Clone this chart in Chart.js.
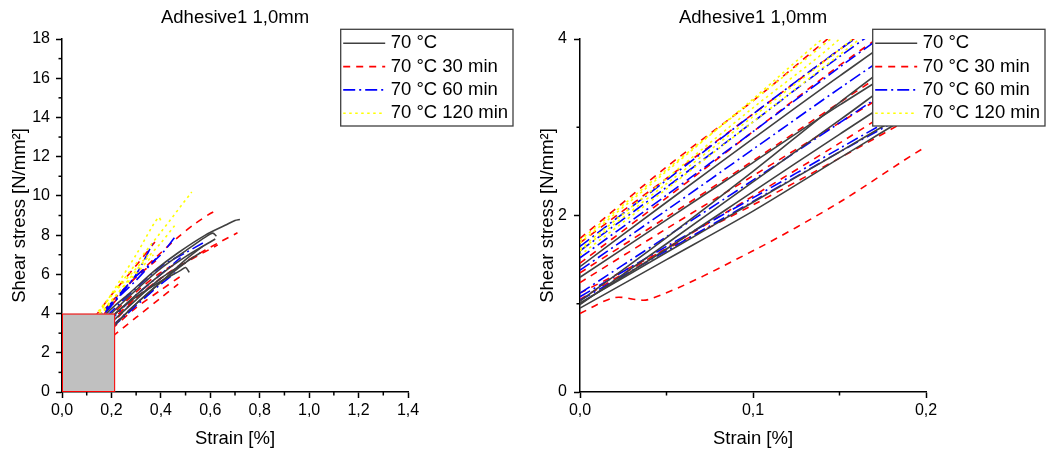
<!DOCTYPE html>
<html>
<head>
<meta charset="utf-8">
<script src="https://cdn.jsdelivr.net/npm/chart.js@4.4.1/dist/chart.umd.min.js"></script>
<style>
    html, body { margin: 0; padding: 0; background: #fff; }
    #wrap { position: relative; width: 1046px; height: 450px; overflow: hidden; }
    canvas { position: absolute; top: 0; }
    #leftChart { left: 0; }
    #rightChart { left: 520px; }
</style>
</head>
<body>
<div id="wrap">
    <canvas id="leftChart" width="520" height="450"></canvas>
    <canvas id="rightChart" width="526" height="450"></canvas>
</div>
<script>
// Series names (legend)
const seriesNames = ['70 °C', '70 °C 30 min', '70 °C 60 min', '70 °C 120 min'];

// Each curve: [strain %, shear stress N/mm²]
const curves70 = [
    [[0,1.42],[0.05,2.15],[0.1,2.87],[0.15,3.58],[0.2,4.25],[0.27,5.0],[0.376,6.2],[0.47,7.1],[0.58,8.0],[0.66,8.5],[0.7,8.75],[0.72,8.8]],
    [[0,1.03],[0.05,1.75],[0.1,2.5],[0.15,3.28],[0.2,4.0],[0.3,5.2],[0.4,6.3],[0.5,7.2],[0.58,7.9],[0.61,8.1],[0.625,7.95]],
    [[0,0.99],[0.05,1.68],[0.1,2.38],[0.15,3.08],[0.2,3.78],[0.3,4.95],[0.4,6.0],[0.5,6.9],[0.6,7.65],[0.62,7.8]],
    [[0,0.95],[0.05,1.5],[0.1,2.05],[0.15,2.65],[0.2,3.25],[0.3,4.5],[0.4,5.6],[0.5,6.75],[0.57,7.44]],
    [[0,1.01],[0.05,1.58],[0.1,2.15],[0.15,2.72],[0.2,3.3],[0.3,4.5],[0.4,5.6],[0.5,6.6],[0.56,7.1]],
    [[0,1.3],[0.05,1.95],[0.1,2.6],[0.15,3.25],[0.2,3.85],[0.3,4.85],[0.4,5.65],[0.48,6.2],[0.5,6.35],[0.515,6.1]],
    [[0,1.0],[0.05,1.62],[0.1,2.27],[0.15,2.92],[0.2,3.55],[0.3,4.7],[0.4,5.8],[0.5,6.6]]
];
const curves30 = [
    [[0,0.89],[0.02,1.07],[0.04,1.05],[0.1,1.6],[0.15,2.15],[0.2,2.78],[0.25,3.3],[0.3,3.8],[0.4,4.8],[0.47,5.5]],
    [[0,1.05],[0.05,1.63],[0.1,2.22],[0.15,2.82],[0.2,3.45],[0.31,4.9],[0.445,6.2],[0.58,7.24],[0.71,8.12]],
    [[0,1.46],[0.05,2.2],[0.1,2.95],[0.15,3.7],[0.2,4.4],[0.3,5.9],[0.4,7.1],[0.47,7.9],[0.54,8.6],[0.6,9.1],[0.615,9.2]],
    [[0,1.24],[0.05,1.85],[0.1,2.45],[0.15,3.05],[0.2,3.65],[0.3,4.8],[0.4,5.8],[0.5,6.6],[0.63,7.5]],
    [[0,1.74],[0.05,2.55],[0.1,3.3],[0.14,3.95],[0.2,4.95],[0.3,6.45],[0.376,7.65]],
    [[0,1.69],[0.05,2.42],[0.1,3.15],[0.15,3.88],[0.2,4.6],[0.3,5.85],[0.38,6.7]],
    [[0,1.35],[0.05,1.98],[0.1,2.62],[0.15,3.28],[0.2,3.92],[0.3,5.1],[0.4,6.1],[0.47,6.6]],
    [[0,1.12],[0.05,1.62],[0.1,2.12],[0.15,2.65],[0.2,3.2],[0.3,4.3],[0.4,5.2],[0.48,5.9]]
];
const curves60 = [
    [[0,1.65],[0.05,2.4],[0.1,3.15],[0.15,3.88],[0.2,4.55],[0.3,5.9],[0.4,7.0],[0.457,7.9]],
    [[0,1.52],[0.05,2.23],[0.1,2.95],[0.15,3.68],[0.2,4.4],[0.3,6.0],[0.37,7.65]],
    [[0,1.38],[0.05,2.06],[0.1,2.75],[0.15,3.44],[0.2,4.1],[0.3,5.3],[0.4,6.4],[0.5,7.1],[0.57,7.6]],
    [[0,1.12],[0.05,1.76],[0.1,2.4],[0.15,3.05],[0.2,3.7],[0.3,4.95],[0.4,6.0],[0.48,6.85]],
    [[0,1.08],[0.05,1.65],[0.1,2.2],[0.15,2.76],[0.2,3.32],[0.3,4.5],[0.4,5.5],[0.46,6.1]],
    [[0,1.04],[0.05,1.6],[0.1,2.16],[0.15,2.72],[0.2,3.26],[0.3,4.4],[0.38,5.3]],
    [[0,1.6],[0.05,2.32],[0.1,3.06],[0.15,3.8],[0.2,4.48],[0.3,5.7],[0.38,6.8]]
];
const curves120 = [
    [[0,1.69],[0.05,2.5],[0.1,3.32],[0.14,4.0],[0.2,4.95],[0.3,6.55],[0.4,8.15],[0.525,10.2]],
    [[0,1.62],[0.05,2.42],[0.1,3.22],[0.15,4.0],[0.2,5.0],[0.3,7.0],[0.39,8.9],[0.405,8.6]],
    [[0,1.55],[0.05,2.3],[0.1,3.06],[0.15,3.82],[0.2,4.6],[0.3,6.2],[0.4,7.6],[0.457,8.5]],
    [[0,1.72],[0.05,2.52],[0.1,3.3],[0.15,4.08],[0.2,4.9],[0.3,6.3],[0.35,7.0]],
    [[0,1.6],[0.05,2.36],[0.1,3.12],[0.15,3.88],[0.2,4.68],[0.3,6.05],[0.37,7.0]]
];

// Zoomed region marked on the overview plot
const zoomStrain = [0, 0.215];
const zoomStress = [0, 4];

const groups = [curves70, curves30, curves60, curves120];
const lineStyles = [
    { color: '#404040', dash: [], order: 2 },
    { color: '#ff0000', dash: [7, 6], order: 4 },
    { color: '#0000ff', dash: [12, 4, 2, 4], order: 3 },
    { color: '#ffff00', dash: [2.5, 3.5], order: 1 }
];
const FONT = "'Liberation Sans', Arial, sans-serif";
const TITLE = 'Adhesive1 1,0mm';

function buildDatasets() {
    const out = [];
    groups.forEach((group, gi) => {
        group.forEach(curve => {
            out.push({
                label: seriesNames[gi],
                data: curve.map(p => ({ x: p[0], y: p[1] })),
                showLine: true,
                borderColor: lineStyles[gi].color,
                borderWidth: 1.6,
                borderDash: lineStyles[gi].dash,
                pointRadius: 0,
                tension: 0.3,
                order: lineStyles[gi].order
            });
        });
    });
    return out;
}

const fmt = (v, d) => Number(v).toFixed(d).replace('.', ',');

// Title, minor ticks, zoom box and legend
const decor = {
    id: 'decor',
    afterDatasetsDraw(chart, args, opts) {
        if (!opts.zoomBox) return;
        const { ctx, scales: { x, y } } = chart;
        const l = x.getPixelForValue(zoomStrain[0]), r = x.getPixelForValue(zoomStrain[1]);
        const t = y.getPixelForValue(zoomStress[1]), b = y.getPixelForValue(zoomStress[0]);
        ctx.save();
        ctx.fillStyle = '#c0c0c0';
        ctx.fillRect(l, t, r - l, b - t);
        ctx.strokeStyle = '#ff0000';
        ctx.lineWidth = 1;
        ctx.strokeRect(l + 0.5, t + 0.5, r - l - 1, b - t - 1);
        ctx.restore();
    },
    afterDraw(chart, args, opts) {
        const { ctx, chartArea, scales: { x, y } } = chart;
        ctx.save();
        // minor ticks
        ctx.strokeStyle = '#000';
        ctx.lineWidth = 1.5;
        const drawMinor = (scale, minor, major, horiz) => {
            const n = Math.round((scale.max - scale.min) / minor);
            for (let i = 0; i <= n; i++) {
                const v = scale.min + i * minor;
                const q = v / major;
                if (Math.abs(q - Math.round(q)) < 1e-6) continue;
                const p = scale.getPixelForValue(v);
                ctx.beginPath();
                if (horiz) { ctx.moveTo(p, chartArea.bottom); ctx.lineTo(p, chartArea.bottom + 3.5); }
                else { ctx.moveTo(chartArea.left - 3.5, p); ctx.lineTo(chartArea.left, p); }
                ctx.stroke();
            }
        };
        drawMinor(x, opts.minorX, opts.majorX, true);
        drawMinor(y, opts.minorY, opts.majorY, false);

        // title
        ctx.fillStyle = '#000';
        ctx.font = `18.5px ${FONT}`;
        ctx.textAlign = 'center';
        ctx.textBaseline = 'middle';
        ctx.fillText(TITLE, (chartArea.left + chartArea.right) / 2, 18.3);

        // legend
        const bx = opts.legendX, by = 29.3, bw = 172.3, bh = 96.7;
        ctx.fillStyle = '#fff';
        ctx.fillRect(bx, by, bw, bh);
        ctx.strokeStyle = '#404040';
        ctx.lineWidth = 1.3;
        ctx.strokeRect(bx, by, bw, bh);
        ctx.textAlign = 'left';
        seriesNames.forEach((name, i) => {
            const ry = by + 14 + i * 23.3;
            ctx.strokeStyle = lineStyles[i].color;
            ctx.lineWidth = 1.6;
            ctx.setLineDash(lineStyles[i].dash);
            ctx.beginPath();
            ctx.moveTo(bx + 2.5, ry);
            ctx.lineTo(bx + 44.5, ry);
            ctx.stroke();
            ctx.setLineDash([]);
            ctx.fillStyle = '#000';
            ctx.fillText(name, bx + 50, ry);
        });
        ctx.restore();
    }
};

function makeChart(id, cfg) {
    const ctx = document.getElementById(id).getContext('2d');
    return new Chart(ctx, {
        type: 'scatter',
        data: { datasets: buildDatasets() },
        options: {
            responsive: false,
            animation: false,
            devicePixelRatio: 1,
            layout: { padding: { top: 39, right: cfg.padRight, left: 0, bottom: 0 } },
            plugins: {
                legend: { display: false },
                tooltip: { enabled: false },
                decor: cfg.decor
            },
            scales: {
                x: {
                    type: 'linear', min: 0, max: cfg.xMax,
                    afterFit: s => { s.height = 58; },
                    border: { display: true, color: '#000', width: 1.5 },
                    grid: { drawOnChartArea: false, drawTicks: true, tickLength: 6, tickWidth: 1.5, tickColor: '#000' },
                    ticks: {
                        stepSize: cfg.xStep, padding: 3, color: '#000', maxRotation: 0, autoSkip: false,
                        font: { size: 16, family: FONT },
                        callback: v => fmt(v, 1)
                    },
                    title: { display: true, text: 'Strain [%]', color: '#000', font: { size: 18.5, family: FONT }, padding: { top: 0, bottom: 0 } }
                },
                y: {
                    type: 'linear', min: 0, max: cfg.yMax,
                    afterFit: s => { s.width = cfg.yWidth; },
                    border: { display: true, color: '#000', width: 1.5 },
                    grid: { drawOnChartArea: false, drawTicks: true, tickLength: 6, tickWidth: 1.5, tickColor: '#000' },
                    ticks: {
                        stepSize: 2, padding: cfg.yPad, color: '#000',
                        font: { size: 16, family: FONT },
                        callback: v => fmt(v, 0)
                    },
                    title: { display: true, text: 'Shear stress [N/mm²]', color: '#000', font: { size: 18.5, family: FONT }, padding: { top: cfg.yTitlePad, bottom: 0 } }
                }
            }
        },
        plugins: [decor]
    });
}

makeChart('leftChart', {
    xMax: 1.4, xStep: 0.2, yMax: 18, yWidth: 62, yPad: 6, yTitlePad: 9, padRight: 112,
    decor: { zoomBox: true, minorX: 0.1, majorX: 0.2, minorY: 1, majorY: 2, legendX: 340.7 }
});
makeChart('rightChart', {
    xMax: 0.2, xStep: 0.1, yMax: 4, yWidth: 60, yPad: 7, yTitlePad: 17, padRight: 120,
    decor: { zoomBox: false, minorX: 0.05, majorX: 0.1, minorY: 1, majorY: 2, legendX: 352.7 }
});
</script>
</body>
</html>
